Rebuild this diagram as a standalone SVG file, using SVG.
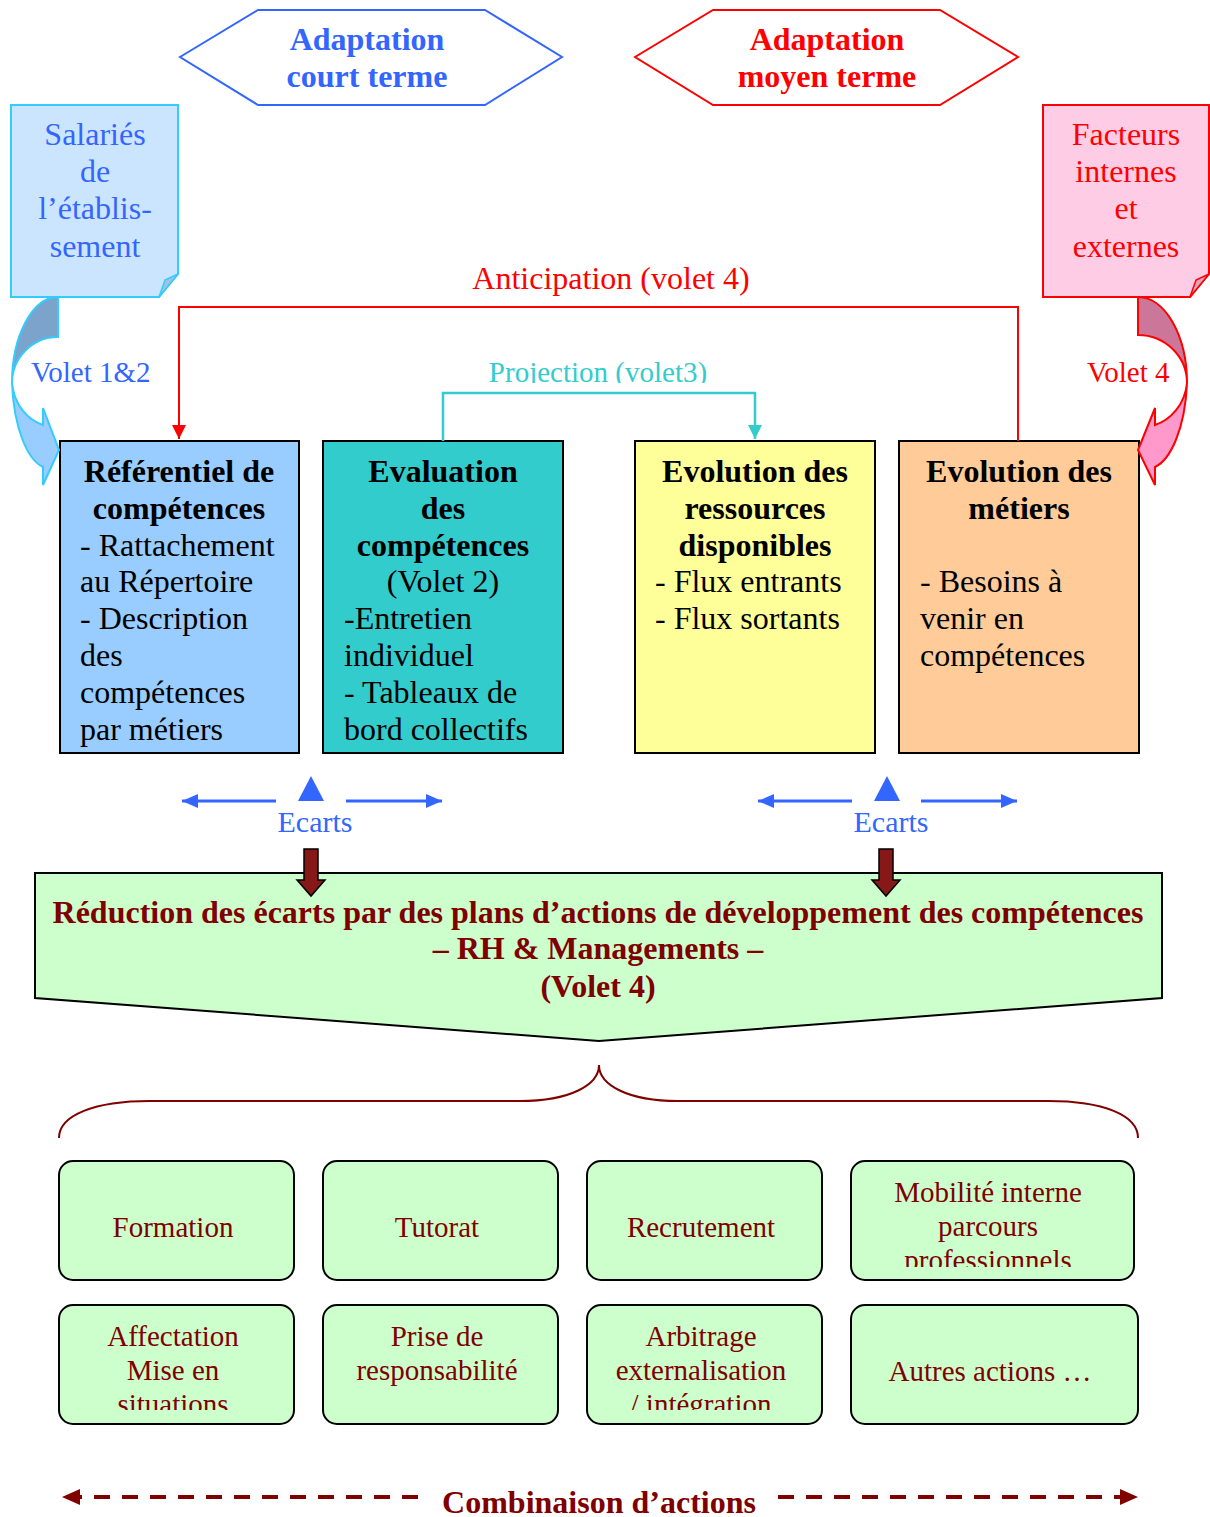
<svg xmlns="http://www.w3.org/2000/svg" width="1210" height="1517" viewBox="0 0 1210 1517">
<style>
text{font-family:"Liberation Serif","Times New Roman",serif;}
.t32{font-size:32px;}
.t29{font-size:29px;}
.b{font-weight:bold;}
.m{text-anchor:middle;}
.blue{fill:#3366FF;}
.red{fill:#FF0000;}
.dred{fill:#800000;}
.blk{fill:#000000;}
.box{stroke:#000;stroke-width:2;}
.sbox{fill:#CCFFCC;stroke:#000;stroke-width:2;}
</style>
<defs>
<marker id="ahRed" markerUnits="userSpaceOnUse" markerWidth="16" markerHeight="16" refX="14" refY="7" orient="auto"><path d="M0,0 L14,7 L0,14 Z" fill="#FF0000"/></marker>
<marker id="ahCyan" markerUnits="userSpaceOnUse" markerWidth="16" markerHeight="16" refX="14" refY="7" orient="auto"><path d="M0,0 L14,7 L0,14 Z" fill="#33CCCC"/></marker>
<marker id="ahBlue" markerUnits="userSpaceOnUse" markerWidth="18" markerHeight="16" refX="16" refY="7" orient="auto"><path d="M0,0 L16,7 L0,14 Z" fill="#3366FF"/></marker>
<marker id="ahDred" markerUnits="userSpaceOnUse" markerWidth="20" markerHeight="18" refX="18" refY="8" orient="auto"><path d="M0,0 L18,8 L0,16 Z" fill="#800000"/></marker>
<clipPath id="clipProj"><rect x="400" y="340" width="400" height="43"/></clipPath>
<clipPath id="clipMob"><rect x="851" y="1161" width="283" height="106"/></clipPath>
<clipPath id="clipAff"><rect x="59" y="1305" width="235" height="105"/></clipPath>
<clipPath id="clipArb"><rect x="587" y="1305" width="235" height="105"/></clipPath>
</defs>

<g id="hex-court">
<polygon points="180,57 258,10 485,10 562,57 485,105 258,105" fill="#FFFFFF" stroke="#3366FF" stroke-width="2"/>
<text class="t32 b m blue" x="367" y="50">Adaptation</text>
<text class="t32 b m blue" x="367" y="87">court terme</text>
</g>
<g id="hex-moyen">
<polygon points="635,57 713,10 940,10 1018,57 940,105 713,105" fill="#FFFFFF" stroke="#FF0000" stroke-width="2"/>
<text class="t32 b m red" x="827" y="50">Adaptation</text>
<text class="t32 b m red" x="827" y="87">moyen terme</text>
</g>

<g id="callout-salaries">
<path d="M11,105 H178 V274 L159,297 H11 Z" fill="#CCE5FF" stroke="#33CCFF" stroke-width="2"/>
<path d="M178,274 L165,280 L159,297 Z" fill="#A3C2E0" stroke="#33CCFF" stroke-width="1.5"/>
<text class="t32 m blue" x="95" y="145">Salariés</text>
<text class="t32 m blue" x="95" y="182">de</text>
<text class="t32 m blue" x="95" y="219">l’établis-</text>
<text class="t32 m blue" x="95" y="257">sement</text>
</g>
<g id="callout-facteurs">
<path d="M1043,105 H1209 V274 L1190,297 H1043 Z" fill="#FFCCE5" stroke="#FF0000" stroke-width="2"/>
<path d="M1209,274 L1196,280 L1190,297 Z" fill="#E0A3C2" stroke="#FF0000" stroke-width="1.5"/>
<text class="t32 m red" x="1126" y="145">Facteurs</text>
<text class="t32 m red" x="1126" y="182">internes</text>
<text class="t32 m red" x="1126" y="219">et</text>
<text class="t32 m red" x="1126" y="257">externes</text>
</g>

<g id="labels">
<text class="m red" style="font-size:32px" x="611" y="289">Anticipation (volet 4)</text>
<text class="t29 m" x="598" y="382" fill="#33CCCC" clip-path="url(#clipProj)">Projection (volet3)</text>
<text class="t29 blue" x="31" y="382">Volet 1&amp;2</text>
<text class="t29 red" x="1087" y="382">Volet 4</text>
<text class="m blue" style="font-size:30px" x="315" y="832">Ecarts</text>
<text class="m blue" style="font-size:30px" x="891" y="832">Ecarts</text>
</g>

<g id="box-referentiel">
<rect class="box" x="60" y="441" width="239" height="312" fill="#99CCFF"/>
<text class="t32 b m blk" x="179" y="482">Référentiel de</text>
<text class="t32 b m blk" x="179" y="519">compétences</text>
<text class="t32 blk" x="80" y="556">- Rattachement</text>
<text class="t32 blk" x="80" y="592">au Répertoire</text>
<text class="t32 blk" x="80" y="629">- Description</text>
<text class="t32 blk" x="80" y="666">des</text>
<text class="t32 blk" x="80" y="703">compétences</text>
<text class="t32 blk" x="80" y="740">par métiers</text>
</g>
<g id="box-evaluation">
<rect class="box" x="323" y="441" width="240" height="312" fill="#33CCCC"/>
<text class="t32 b m blk" x="443" y="482">Evaluation</text>
<text class="t32 b m blk" x="443" y="519">des</text>
<text class="t32 b m blk" x="443" y="556">compétences</text>
<text class="t32 m blk" x="443" y="592">(Volet 2)</text>
<text class="t32 blk" x="344" y="629">-Entretien</text>
<text class="t32 blk" x="344" y="666">individuel</text>
<text class="t32 blk" x="344" y="703">- Tableaux de</text>
<text class="t32 blk" x="344" y="740">bord collectifs</text>
</g>
<g id="box-ressources">
<rect class="box" x="635" y="441" width="240" height="312" fill="#FFFF99"/>
<text class="t32 b m blk" x="755" y="482">Evolution des</text>
<text class="t32 b m blk" x="755" y="519">ressources</text>
<text class="t32 b m blk" x="755" y="556">disponibles</text>
<text class="t32 blk" x="655" y="592">- Flux entrants</text>
<text class="t32 blk" x="655" y="629">- Flux sortants</text>
</g>
<g id="box-metiers">
<rect class="box" x="899" y="441" width="240" height="312" fill="#FFCC99"/>
<text class="t32 b m blk" x="1019" y="482">Evolution des</text>
<text class="t32 b m blk" x="1019" y="519">métiers</text>
<text class="t32 blk" x="920" y="592">- Besoins à</text>
<text class="t32 blk" x="920" y="629">venir en</text>
<text class="t32 blk" x="920" y="666">compétences</text>
</g>

<g id="banner">
<polygon points="35,873 1162,873 1162,998 599,1041 35,998" fill="#CCFFCC" stroke="#000" stroke-width="2"/>
<text class="t32 b m dred" x="598" y="923">Réduction des écarts par des plans d’actions de développement des compétences</text>
<text class="t32 b m dred" x="598" y="959">– RH &amp; Managements –</text>
<text class="t32 b m dred" x="598" y="997">(Volet 4)</text>
</g>

<g id="action-formation">
<rect class="sbox" x="59" y="1161" width="235" height="119" rx="14"/>
<text class="t29 m dred" x="173" y="1237">Formation</text>
</g>
<g id="action-tutorat">
<rect class="sbox" x="323" y="1161" width="235" height="119" rx="14"/>
<text class="t29 m dred" x="437" y="1237">Tutorat</text>
</g>
<g id="action-recrutement">
<rect class="sbox" x="587" y="1161" width="235" height="119" rx="14"/>
<text class="t29 m dred" x="701" y="1237">Recrutement</text>
</g>
<g id="action-mobilite">
<rect class="sbox" x="851" y="1161" width="283" height="119" rx="14"/>
<g clip-path="url(#clipMob)">
<text class="t29 m dred" x="988" y="1202">Mobilité interne</text>
<text class="t29 m dred" x="988" y="1236">parcours</text>
<text class="t29 m dred" x="988" y="1270">professionnels</text>
</g>
</g>
<g id="action-affectation">
<rect class="sbox" x="59" y="1305" width="235" height="119" rx="14"/>
<g clip-path="url(#clipAff)">
<text class="t29 m dred" x="173" y="1346">Affectation</text>
<text class="t29 m dred" x="173" y="1380">Mise en</text>
<text class="t29 m dred" x="173" y="1414">situations</text>
</g>
</g>
<g id="action-responsabilite">
<rect class="sbox" x="323" y="1305" width="235" height="119" rx="14"/>
<text class="t29 m dred" x="437" y="1346">Prise de</text>
<text class="t29 m dred" x="437" y="1380">responsabilité</text>
</g>
<g id="action-arbitrage">
<rect class="sbox" x="587" y="1305" width="235" height="119" rx="14"/>
<g clip-path="url(#clipArb)">
<text class="t29 m dred" x="701" y="1346">Arbitrage</text>
<text class="t29 m dred" x="701" y="1380">externalisation</text>
<text class="t29 m dred" x="701" y="1414">/ intégration</text>
</g>
</g>
<g id="action-autres">
<rect class="sbox" x="851" y="1305" width="287" height="119" rx="14"/>
<text class="t29 m dred" x="990" y="1381">Autres actions …</text>
</g>

<g id="combinaison">
<text class="t32 b m dred" x="599" y="1513">Combinaison d’actions</text>
</g>

<g id="connectors">
<path d="M1018,441 V307 H179 V439" fill="none" stroke="#FF0000" stroke-width="2" marker-end="url(#ahRed)"/>
<path d="M443,441 V393 H755 V439" fill="none" stroke="#33CCCC" stroke-width="2.5" marker-end="url(#ahCyan)"/>
<g id="curved-left">
<path d="M58,297 A46,86 0 0,0 12,383 A46,46 0 0,1 58,337 Z" fill="#7BA3CC" stroke="#33CCFF" stroke-width="2"/>
<path d="M12,383 C14,430 28,460 43,467 L43,485 L59,450 L43,408 L43,425 C28,420 14,405 12,383 Z" fill="#99CCFF" stroke="#33CCFF" stroke-width="2"/>
</g>
<g id="curved-right">
<path d="M1138,297 A49,86 0 0,1 1187,383 A49,48 0 0,0 1138,335 Z" fill="#CC7799" stroke="#FF0000" stroke-width="2"/>
<path d="M1187,383 C1185,430 1170,460 1155,467 L1155,485 L1138,450 L1155,408 L1155,425 C1170,420 1185,405 1187,383 Z" fill="#FF99CC" stroke="#FF0000" stroke-width="2"/>
</g>
<g id="ecarts-left">
<line x1="276" y1="801" x2="182" y2="801" stroke="#3366FF" stroke-width="3" marker-end="url(#ahBlue)"/>
<line x1="346" y1="801" x2="442" y2="801" stroke="#3366FF" stroke-width="3" marker-end="url(#ahBlue)"/>
<polygon points="311,776 298,801 324,801" fill="#3366FF"/>
<path d="M304,849 H318 V880 H325 L311,896 L297,880 H304 Z" fill="#861818" stroke="#000" stroke-width="1.5"/>
</g>
<g id="ecarts-right">
<line x1="852" y1="801" x2="758" y2="801" stroke="#3366FF" stroke-width="3" marker-end="url(#ahBlue)"/>
<line x1="921" y1="801" x2="1017" y2="801" stroke="#3366FF" stroke-width="3" marker-end="url(#ahBlue)"/>
<polygon points="887,776 874,801 900,801" fill="#3366FF"/>
<path d="M879,849 H893 V880 H900 L886,896 L872,880 H879 Z" fill="#861818" stroke="#000" stroke-width="1.5"/>
</g>
<path id="brace" d="M59,1138 C59,1115 95,1101 150,1101 H520 C570,1101 599,1085 599,1065 C599,1085 628,1101 678,1101 H1048 C1103,1101 1138,1115 1138,1138" fill="none" stroke="#800000" stroke-width="2"/>
<g id="combinaison-arrows">
<line x1="418" y1="1497" x2="62" y2="1497" stroke="#800000" stroke-width="4" stroke-dasharray="16,12" marker-end="url(#ahDred)"/>
<line x1="778" y1="1497" x2="1138" y2="1497" stroke="#800000" stroke-width="4" stroke-dasharray="16,12" marker-end="url(#ahDred)"/>
</g>
</g>
</svg>
